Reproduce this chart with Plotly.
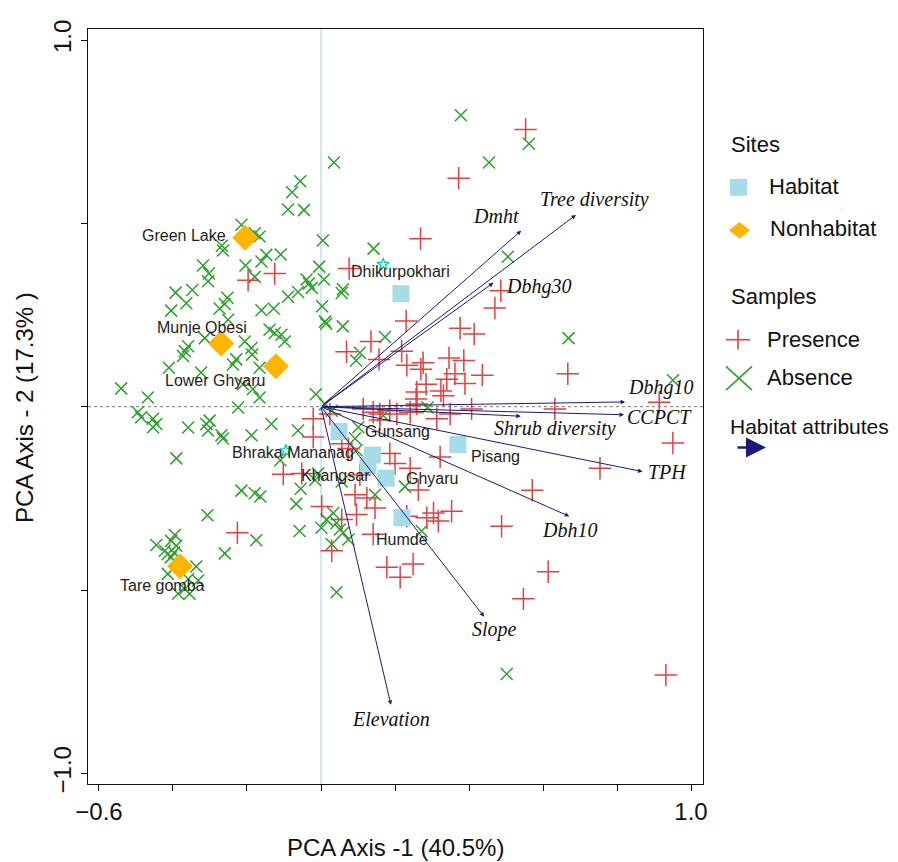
import plotly.graph_objects as go

# ---------------- data ----------------
presence_x = [0.553, 0.372, 0.269, 0.076, 0.486, 0.470, 0.230, 0.376, 0.414, 0.135,
              0.069, 0.218, 0.157, 0.232, 0.276, 0.270, 0.346, 0.386, 0.284, 0.324,
              0.340, 0.362, 0.389, 0.436, 0.667, 0.914, 0.259, 0.257, 0.259, 0.632,
              0.407, -0.197, -0.125, -0.021, -0.021, -0.102, -0.052, -0.226, 0.331, 0.114,
              0.141, 0.159, 0.159, 0.186, 0.205, 0.241, 0.313, 0.349, 0.024, 0.056,
              0.074, 0.322, 0.186, 0.200, 0.241, 0.105, 0.002, 0.092, 0.124, 0.146,
              0.263, 0.096, 0.056, 0.029, 0.141, 0.232, 0.286, 0.304, 0.317, 0.353,
              0.488, 0.178, 0.214, 0.249, 0.547, 0.951, 0.754, 0.571, 0.614, 0.932]
presence_y = [0.756, 0.623, 0.458, 0.377, 0.316, 0.269, 0.234, 0.214, 0.198, 0.178,
              0.150, 0.151, 0.129, 0.113, 0.120, 0.102, 0.133, 0.126, 0.061, 0.043,
              0.075, 0.090, 0.063, 0.086, 0.090, 0.012, 0.040, 0.021, 0.007, -0.006,
              -0.006, 0.345, 0.363, -0.033, -0.083, -0.184, -0.182, -0.344, 0.030, -0.006,
              -0.015, -0.020, -0.036, -0.011, -0.020, -0.015, -0.033, -0.020, -0.020, -0.101,
              -0.114, -0.137, -0.128, -0.155, -0.168, -0.186, -0.272, -0.240, -0.249, -0.276,
              -0.227, -0.294, -0.308, -0.393, -0.348, -0.299, -0.303, -0.290, -0.312, -0.285,
              -0.326, -0.438, -0.465, -0.429, -0.524, -0.099, -0.168, -0.228, -0.450, -0.732]

absence_x = [0.378, 0.562, 0.035, 0.454, 0.142, 0.505, -0.005, 0.005, -0.039, -0.025,
             0.008, 0.059, 0.056, 0.003, 0.011, 0.014, 0.059, 0.669, 0.173, 0.105,
             0.095, 0.951, -0.014, 0.288, -0.056, -0.078, -0.089, -0.046, -0.215, -0.179,
             -0.166, -0.268, -0.265, -0.148, -0.109, -0.161, -0.319, -0.204, -0.303, -0.305,
             -0.179, -0.033, -0.062, -0.089, -0.393, -0.348, -0.364, -0.253, -0.260, -0.274,
             -0.405, -0.161, -0.128, -0.251, -0.139, -0.125, -0.107, -0.098, -0.314, -0.359,
             -0.368, -0.373, -0.206, -0.188, -0.186, -0.229, -0.238, -0.411, -0.324, -0.166,
             -0.540, -0.468, -0.184, -0.166, -0.211, -0.224, -0.495, -0.486, -0.454, -0.445,
             -0.454, -0.359, -0.310, -0.301, -0.305, -0.269, -0.265, -0.188, -0.134, -0.062,
             -0.391, -0.110, -0.215, -0.179, -0.164, -0.055, -0.067, -0.307, -0.175, -0.058,
             0.001, -0.260, -0.445, -0.395, -0.405, -0.391, -0.422, -0.414, -0.397, -0.406,
             -0.337, -0.414, -0.359, -0.332, -0.386, -0.355, -0.368, 0.011, 0.029, 0.101,
             0.092, 0.096, 0.168, 0.056, 0.146, 0.227, 0.033, 0.015, 0.042, 0.051,
             0.074, 0.029, 0.060, 0.272, 0.042, 0.502, -0.016, -0.008]
absence_y = [0.795, 0.717, 0.666, 0.666, 0.431, 0.409, 0.382, 0.453, 0.347, 0.324,
             0.347, 0.320, 0.310, 0.274, 0.232, 0.226, 0.219, 0.187, 0.190, 0.147,
             0.126, 0.072, 0.034, -0.002, 0.615, 0.585, 0.538, 0.536, 0.496, 0.473,
             0.464, 0.439, 0.426, 0.414, 0.415, 0.396, 0.385, 0.385, 0.363, 0.342,
             0.354, 0.336, 0.313, 0.300, 0.311, 0.318, 0.282, 0.297, 0.280, 0.268,
             0.262, 0.263, 0.268, 0.237, 0.210, 0.201, 0.196, 0.178, 0.187, 0.165,
             0.151, 0.138, 0.178, 0.160, 0.142, 0.129, 0.115, 0.106, 0.093, 0.106,
             0.050, 0.025, 0.048, 0.025, 0.061, -0.002, -0.015, -0.029, -0.033, -0.047,
             -0.056, -0.057, -0.047, -0.038, -0.065, -0.078, -0.087, -0.078, -0.047, -0.065,
             -0.141, -0.146, -0.229, -0.236, -0.245, -0.224, -0.265, -0.296, -0.364, -0.339,
             -0.330, -0.400, -0.377, -0.350, -0.366, -0.379, -0.393, -0.402, -0.398, -0.411,
             -0.436, -0.456, -0.470, -0.474, -0.510, -0.510, -0.497, 0.007, -0.011, -0.056,
             -0.087, -0.119, -0.024, -0.204, -0.240, -0.218, -0.290, -0.308, -0.317, -0.335,
             -0.362, -0.375, -0.344, -0.339, -0.506, -0.729, -0.200, -0.182]

habitat_sites = ["Dhikurpokhari", "Gunsang", "Bhraka Mananag", "Khangsar", "Ghyaru", "Pisang", "Humde"]
habitat_x = [0.216, 0.049, 0.139, 0.127, 0.176, 0.370, 0.219]
habitat_y = [0.308, -0.068, -0.132, -0.160, -0.195, -0.103, -0.303]

nonhabitat_sites = ["Green Lake", "Munje Qbesi", "Lower Ghyaru", "Tare gomba"]
nonhabitat_x = [-0.205, -0.270, -0.122, -0.381]
nonhabitat_y = [0.461, 0.172, 0.110, -0.435]

extra_x = [0.168, -0.095]
extra_y = [0.388, -0.120]

attributes = ["Tree diversity", "Dmht", "Dbhg30", "Dbhg10", "CCPCT",
              "Shrub diversity", "TPH", "Dbh10", "Slope", "Elevation"]
attr_x = [0.689, 0.541, 0.466, 0.822, 0.819, 0.540, 0.869, 0.671, 0.441, 0.189]
attr_y = [0.523, 0.480, 0.338, 0.013, -0.022, -0.026, -0.177, -0.299, -0.573, -0.813]

x_ticks = [-0.6, -0.4, -0.2, 0.0, 0.2, 0.4, 0.6, 0.8, 1.0]
x_ticktext = ["\u22120.6", "", "", "", "", "", "", "", "1.0"]
y_ticks = [-1.0, -0.5, 0.0, 0.5, 1.0]
y_ticktext = ["\u22121.0", "", "", "", "1.0"]

# ---------------- styles / layout helpers ----------------
OFF = 8                      # page body margin added by the html page
W, H = 898 - OFF, 862 - OFF  # figure size so that it fits the window
ML, MT = 88 - OFF, 21 - OFF  # plot-area left/top (page px 88, 21)
MR = W - (703 - OFF)         # plot-area right at page px 703
MB = H - (784 - OFF)         # plot-area bottom at page px 784
PW, PH = W - ML - MR, H - MT - MB
RED = "#e4403f"
GREEN = "#2ca02c"
BLUE = "#a6dbe8"
ORANGE = "#ffb400"
NAVY = "#1a1a7a"
SANS = "Liberation Sans, Arial, sans-serif"
SERIF = "Liberation Serif, Times New Roman, serif"


def px(xp):
    """page pixel x -> paper x"""
    return (xp - OFF - ML) / PW


def py(yp):
    """page pixel y -> paper y"""
    return (H - MB - (yp - OFF)) / PH


fig = go.Figure()

fig.add_trace(go.Scatter(x=absence_x, y=absence_y, mode="markers", name="Absence",
                         marker=dict(symbol="x-thin", size=12, line=dict(color=GREEN, width=1.5))))
fig.add_trace(go.Scatter(x=presence_x, y=presence_y, mode="markers", name="Presence",
                         marker=dict(symbol="cross-thin", size=16, line=dict(color=RED, width=1.5))))
fig.add_trace(go.Scatter(x=extra_x, y=extra_y, mode="markers", showlegend=False,
                         marker=dict(symbol="star-open", size=9, line=dict(color="#6cb6d6", width=1.2))))
fig.add_trace(go.Scatter(x=habitat_x, y=habitat_y, mode="markers", name="Habitat",
                         marker=dict(symbol="square", size=17, color=BLUE)))
fig.add_trace(go.Scatter(x=nonhabitat_x, y=nonhabitat_y, mode="markers", name="Nonhabitat",
                         marker=dict(symbol="diamond", size=20, color=ORANGE)))

annotations = []

# habitat attribute arrows
for name, ax_, ay_ in zip(attributes, attr_x, attr_y):
    annotations.append(dict(x=ax_, y=ay_, ax=0, ay=0, xref="x", yref="y", axref="x", ayref="y",
                            text="", showarrow=True, arrowhead=2, arrowsize=0.9, arrowwidth=1,
                            arrowcolor=NAVY, standoff=0, startstandoff=0))

attr_offsets = {
    "Tree diversity": (19, 15), "Dmht": (-25, 15), "Dbhg30": (45, -4),
    "Dbhg10": (35, 14), "CCPCT": (35, -2), "Shrub diversity": (34, -12),
    "TPH": (25, 0), "Dbh10": (0, -14), "Slope": (10, -13), "Elevation": (0, -14),
}
for name, ax_, ay_ in zip(attributes, attr_x, attr_y):
    dx, dy = attr_offsets[name]
    annotations.append(dict(x=ax_, y=ay_, xref="x", yref="y", text="<i>%s</i>" % name,
                            showarrow=False, xshift=dx, yshift=dy, xanchor="center", yanchor="middle",
                            font=dict(family=SERIF, size=20, color="#111111")))

site_offsets = {
    "Dhikurpokhari": ("center", 0, 22), "Gunsang": ("left", 24, 0),
    "Bhraka Mananag": ("right", -16, 3), "Khangsar": ("right", 4, -10),
    "Ghyaru": ("left", 18, 0), "Pisang": ("left", 11, -12), "Humde": ("center", 0, -22),
    "Green Lake": ("right", -17, 2), "Munje Qbesi": ("center", -19, 16),
    "Lower Ghyaru": ("center", -60, -14), "Tare gomba": ("center", -18, -19),
}
for names, xs, ys in ((habitat_sites, habitat_x, habitat_y), (nonhabitat_sites, nonhabitat_x, nonhabitat_y)):
    for name, sx, sy in zip(names, xs, ys):
        anc, dx, dy = site_offsets[name]
        annotations.append(dict(x=sx, y=sy, xref="x", yref="y", text=name, showarrow=False,
                                xanchor=anc, yanchor="middle", xshift=dx, yshift=dy,
                                font=dict(family=SANS, size=16, color="#222222")))

# axis titles
annotations.append(dict(x=px(395), y=py(848), xref="paper", yref="paper", text="PCA Axis -1 (40.5%)",
                        showarrow=False, xanchor="center", yanchor="middle",
                        font=dict(family=SANS, size=24, color="#111111")))
annotations.append(dict(x=px(25), y=py(404), xref="paper", yref="paper", text="PCA Axis - 2 (17.3% )",
                        showarrow=False, xanchor="center", yanchor="middle", textangle=-90,
                        font=dict(family=SANS, size=24, color="#111111")))

# manual legend
for txt, xl, yc, fs in (("Sites", 729, 138, 22), ("Habitat", 767, 180, 22), ("Nonhabitat", 768, 223, 22),
                        ("Samples", 729, 291, 22), ("Presence", 765, 335, 22), ("Absence", 765, 373, 22),
                        ("Habitat attributes", 728, 423, 21)):
    annotations.append(dict(x=px(xl), y=py(yc), xref="paper", yref="paper", text=txt, showarrow=False,
                            xanchor="left", yanchor="middle",
                            font=dict(family=SANS, size=fs, color="#111111")))
annotations.append(dict(x=px(766), y=py(444), ax=-30, ay=0, xref="paper", yref="paper",
                        axref="pixel", ayref="pixel", text="", showarrow=True,
                        arrowhead=2, arrowsize=1.6, arrowwidth=2.5, arrowcolor=NAVY))

shapes = [
    # zero lines
    dict(type="line", xref="paper", yref="y", x0=0, x1=1, y0=0, y1=0,
         line=dict(color="#777777", width=1, dash="dot"), layer="below"),
    dict(type="line", xref="x", yref="paper", x0=0, x1=0, y0=0, y1=1,
         line=dict(color="#b5d6ee", width=1.2), layer="below"),
    # legend glyphs
    dict(type="rect", xref="paper", yref="paper", x0=px(730), x1=px(747), y0=py(189.5), y1=py(172.5),
         fillcolor=BLUE, line=dict(width=0)),
    dict(type="path", xref="paper", yref="paper",
         path="M %f %f L %f %f L %f %f L %f %f Z" % (px(729), py(224.5), px(739.5), py(216),
                                                     px(750), py(224.5), px(739.5), py(233)),
         fillcolor=ORANGE, line=dict(width=0)),
    dict(type="line", xref="paper", yref="paper", x0=px(726), x1=px(750), y0=py(335), y1=py(335),
         line=dict(color=RED, width=1.6)),
    dict(type="line", xref="paper", yref="paper", x0=px(738), x1=px(738), y0=py(325), y1=py(345),
         line=dict(color=RED, width=1.6)),
    dict(type="line", xref="paper", yref="paper", x0=px(726), x1=px(752), y0=py(362), y1=py(386),
         line=dict(color=GREEN, width=1.6)),
    dict(type="line", xref="paper", yref="paper", x0=px(726), x1=px(752), y0=py(386), y1=py(362),
         line=dict(color=GREEN, width=1.6)),
]

fig.update_layout(
    width=W, height=H,
    margin=dict(l=ML, r=MR, t=MT, b=MB),
    paper_bgcolor="white", plot_bgcolor="white",
    showlegend=False,
    annotations=annotations, shapes=shapes,
    font=dict(family=SANS, color="#111111"),
)
fig.update_xaxes(range=[-0.6297, 1.0324], showgrid=False, zeroline=False,
                 showline=True, mirror=True, linecolor="#111111", linewidth=1.3,
                 tickmode="array", tickvals=x_ticks, ticktext=x_ticktext,
                 ticks="outside", ticklen=6, tickwidth=1.2, tickcolor="#111111",
                 tickfont=dict(family=SANS, size=24, color="#111111"))
fig.update_yaxes(range=[-1.029, 1.030], showgrid=False, zeroline=False,
                 showline=True, mirror=True, linecolor="#111111", linewidth=1.3,
                 tickmode="array", tickvals=y_ticks, ticktext=y_ticktext,
                 ticks="outside", ticklen=6, tickwidth=1.2, tickcolor="#111111",
                 tickangle=-90, tickfont=dict(family=SANS, size=24, color="#111111"))

fig.write_html("out.html")
